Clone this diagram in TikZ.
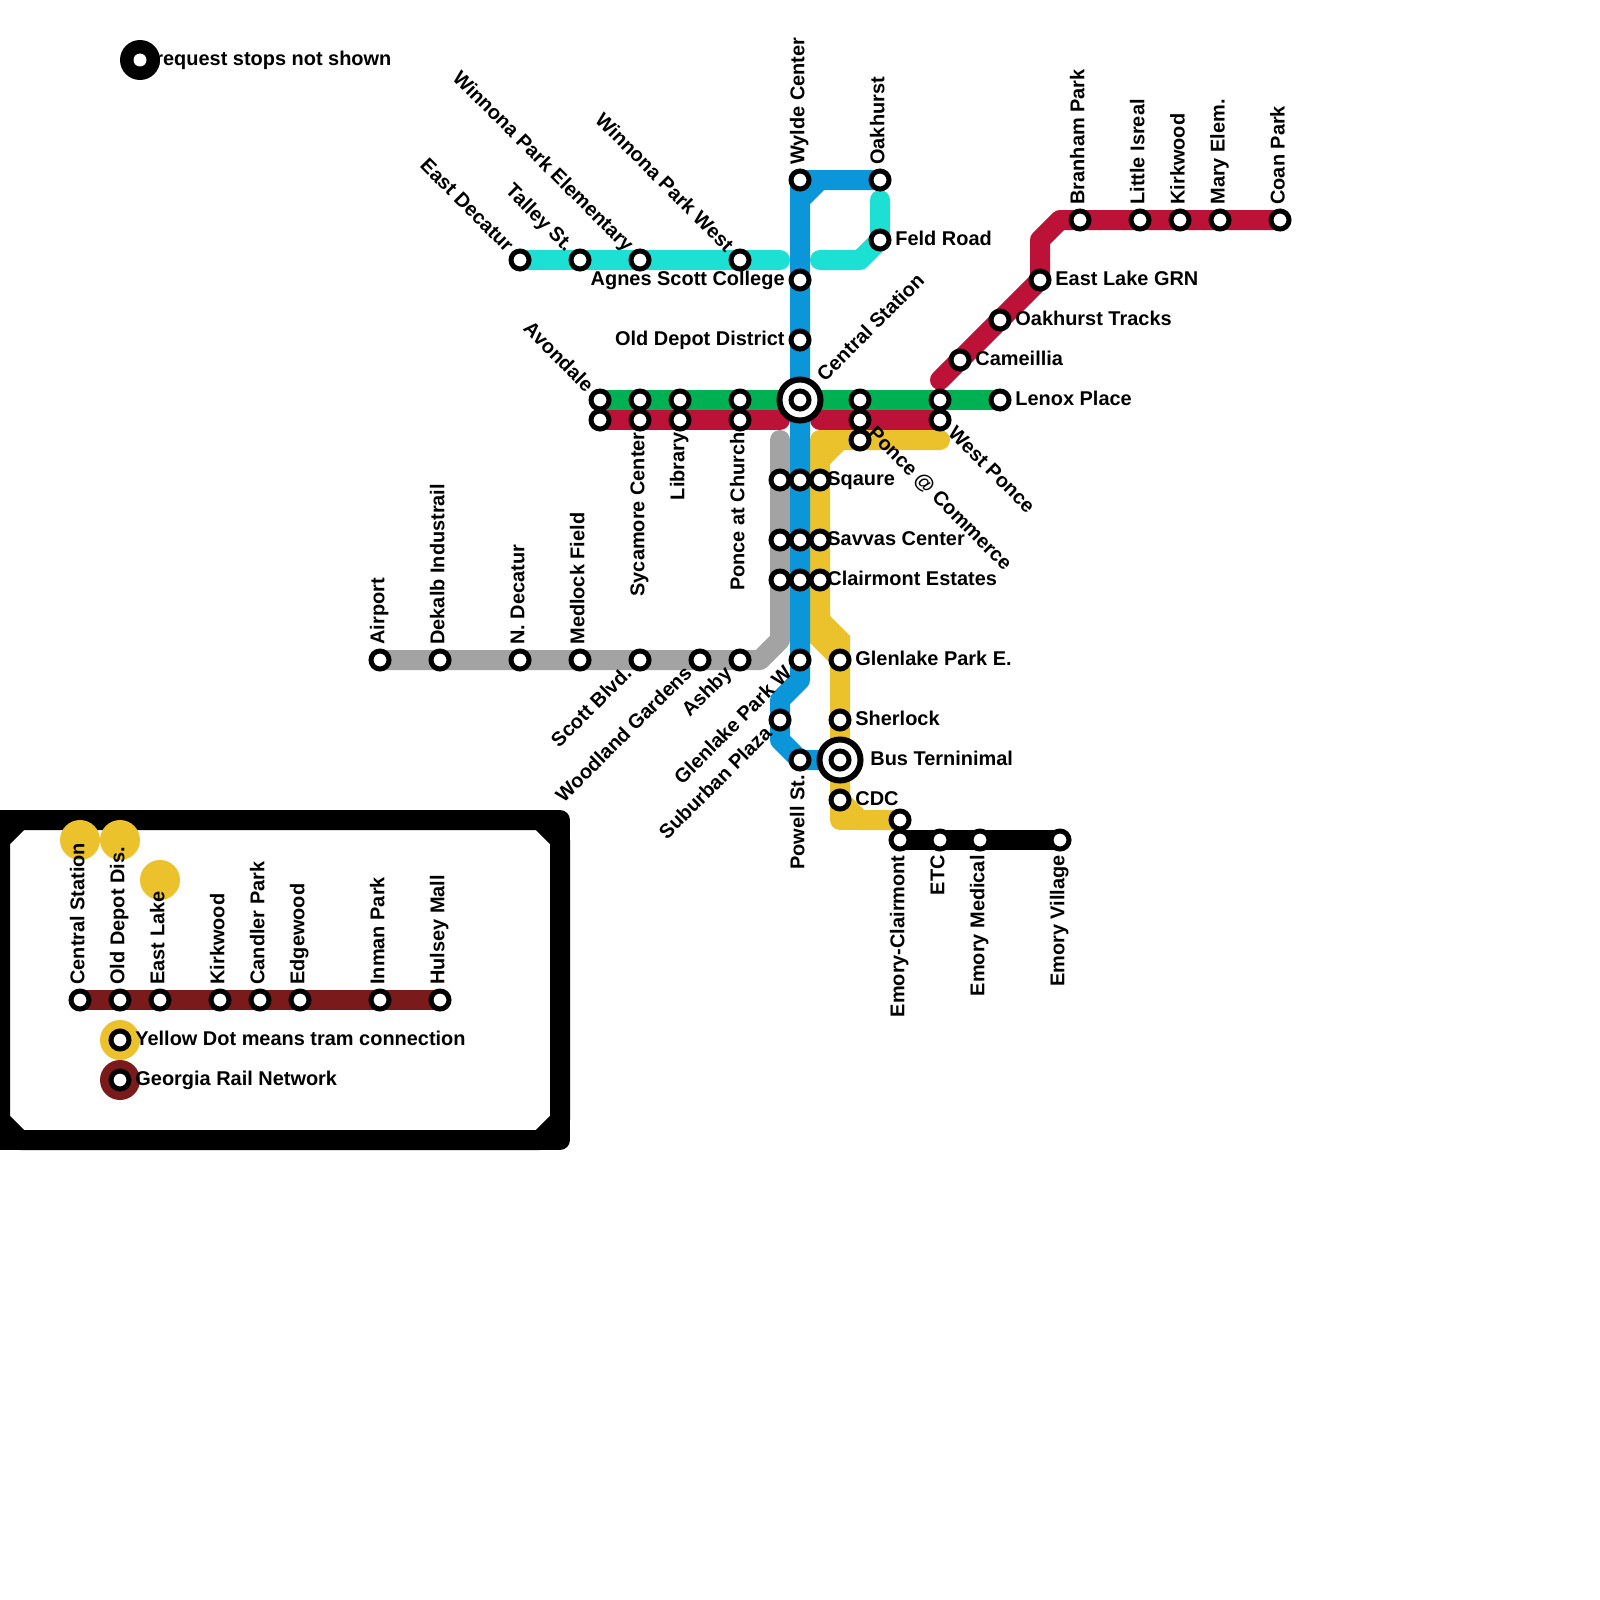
\documentclass[tikz,border=0pt]{standalone}
\usepackage{fontspec}
\setmainfont{Liberation Sans}
\definecolor{cblue}{HTML}{0B96DA}
\definecolor{cteal}{HTML}{1CE0D3}
\definecolor{cgreen}{HTML}{00B153}
\definecolor{cred}{HTML}{BC1238}
\definecolor{cyel}{HTML}{EBC12C}
\definecolor{cgray}{HTML}{A3A3A3}
\definecolor{cdark}{HTML}{7B1A1A}
\pgfdeclarelayer{paper}
\pgfdeclarelayer{rails}
\pgfsetlayers{paper,rails,main}
\tikzset{
  st/.style={circle,draw=black,fill=white,line width=2.5pt,inner sep=0pt,minimum size=9pt},
  inter/.style={circle,draw=black,fill=white,line width=3pt,inner sep=0pt,minimum size=20.5pt},
  rail/.style={line width=10pt,line cap=round,line join=round},
  lab/.style={font=\fontsize{9.97pt}{12pt}\bfseries\selectfont,inner sep=0pt,text=black},
  lr/.style={lab,anchor=mid west},
  ll/.style={lab,anchor=mid east},
  lu/.style={lab,anchor=mid west,rotate=90,xshift=0pt,yshift=0.4pt},
  ld/.style={lab,anchor=mid east,rotate=90,yshift=0.4pt},
  lne/.style={lab,anchor=mid west,rotate=45},
  lsw/.style={lab,anchor=mid east,rotate=45},
  lse/.style={lab,anchor=mid west,rotate=-45},
  lnw/.style={lab,anchor=mid east,rotate=-45},
  dot/.style={circle,inner sep=0pt,minimum size=20pt},
}
\begin{document}
\begin{tikzpicture}[x=0.5pt,y=-0.5pt]
\useasboundingbox (0,0) rectangle (1600,1600);
% legend frame
\coordinate (fa) at (0,820); \coordinate (fb) at (560,820); \coordinate (fc) at (560,1140); \coordinate (fd) at (0,1140);
\begin{pgfonlayer}{paper}
\fill[white] (0,0) rectangle (1600,1600);
\begin{scope}
\clip (0,0) rectangle (1600,1600);
\draw[line width=10pt,line join=round,fill=white] (fa) -- (fb) -- (fc) -- (fd) -- cycle;
\draw[line width=10pt,line join=round] (0,840) -- (20,820) -- (540,820) -- (560,840) -- (560,1120) -- (540,1140) -- (20,1140) -- (0,1120) -- cycle;
\end{scope}
\end{pgfonlayer}
% tram dots
\node[dot,fill=cyel] (y1) at (80,840) {};
\node[dot,fill=cyel] (y2) at (120,840) {};
\node[dot,fill=cyel] (y3) at (160,880) {};
\node[dot,fill=cyel] (y4) at (120,1040) {};
\node[dot,fill=cdark] (y5) at (120,1080) {};
\node[dot,fill=black] (key) at (140,60) {};
\node[circle,fill=white,inner sep=0pt,minimum size=6.5pt] (keyc) at (140,60) {};
% stations
\foreach \n/\x/\y in {
 wylde/800/180,oakh/880/180,feld/880/240,agnes/800/280,odd/800/340,
 edec/520/260,talley/580/260,wpe/640/260,wpw/740/260,
 ava/600/400,avb/600/420,syca/640/400,sycb/640/420,liba/680/400,libb/680/420,pca/740/400,pcb/740/420,
 pw1/860/400,pw2/860/420,pw3/860/440,wp1/940/400,wp2/940/420,lenox/1000/400,
 cam/960/360,otr/1000/320,elg/1040/280,bran/1080/220,lit/1140/220,kirk/1180/220,mary/1220/220,coan/1280/220,
 sqg/780/480,sqb/800/480,sqy/820/480,sag/780/540,sab/800/540,say/820/540,clg/780/580,clb/800/580,cly/820/580,
 air/380/660,dek/440/660,ndec/520/660,med/580/660,scott/640/660,wood/700/660,ash/740/660,
 glw/800/660,gle/840/660,sher/840/720,subp/780/720,pow/800/760,cdc/840/800,
 ecu/900/820,ecl/900/840,etc/940/840,emed/980/840,evil/1060/840,
 gcs/80/1000,god/120/1000,gel/160/1000,gki/220/1000,gcp/260/1000,ged/300/1000,gin/380/1000,ghu/440/1000,
 ky/120/1040,kg/120/1080}
 {\node[st] (\n) at (\x,\y) {};}
\node[inter] (cent) at (800,400) {};
\node[st] (centi) at (800,400) {};
\node[inter] (bus) at (840,760) {};
\node[st] (busi) at (840,760) {};
\begin{pgfonlayer}{rails}
\coordinate (tealr) at (820,260); \coordinate (teall) at (780,260);
\coordinate (tealt) at (880,200);
\draw[rail,cteal] (edec.center) -- (teall);
\draw[rail,cteal] (tealr) -- (860,260) -- (feld.center) -- (tealt);
\coordinate (grayt) at (780,440);
\draw[rail,cgray] (grayt) -- (780,640) -- (760,660) -- (air.center);
\coordinate (redl) at (780,420); \coordinate (redr) at (820,420); \coordinate (redu) at (940,380);
\draw[rail,cred] (avb.center) -- (redl);
\draw[rail,cred] (redr) -- (wp2.center);
\draw[rail,cred] (redu) -- (elg.center) -- (1040,240) -- (1060,220) -- (coan.center);
\draw[rail,cgreen] (ava.center) -- (lenox.center);
\coordinate (yele) at (940,440);
\draw[rail,cyel] (yele) -- (840,440) -- (820,460) -- (820,620);
\draw[rail,cyel] (840,440) -- (820,440) -- (820,460);
\fill[cyel] (810,610) -- (830,610) -- (830,616) -- (850,636) -- (850,670) -- (830,670) -- (830,663) -- (810,643) -- cycle;
\draw[rail,cyel] (gle.center) -- (cdc.center) -- (860,820) -- (ecu.center);
\draw[rail,cyel] (cdc.center) -- (840,820) -- (860,820);
\draw[rail,black] (ecl.center) -- (evil.center);
\draw[rail,cblue] (oakh.center) -- (820,180) -- (800,200) -- (800,680) -- (780,700) -- (780,740) -- (pow.center) -- (bus.center);
\draw[rail,cblue] (820,180) -- (wylde.center) -- (800,200);
\draw[rail,cdark] (gcs.center) -- (ghu.center);
\end{pgfonlayer}
% labels
\node[lr] (t01) at (155,60) {request stops not shown};
\node[lu] (t02) at (800,165) {Wylde Center};
\node[lu] (t03) at (880,165) {Oakhurst};
\node[lr] (t04) at (895,240) {Feld Road};
\node[ll] (t05) at (785,280) {Agnes Scott College};
\node[ll] (t06) at (785,340) {Old Depot District};
\node[lnw] (t07) at (509.4,249.4) {East Decatur};
\node[lnw] (t08) at (569.4,249.4) {Talley St.};
\node[lnw] (t09) at (629.4,249.4) {Winnona Park Elementary};
\node[lnw] (t10) at (729.4,249.4) {Winnona Park West};
\node[lnw] (t11) at (589.4,389.4) {Avondale};
\node[lne] (t12) at (821.2,378.8) {Central Station};
\node[ld] (t13) at (640,432) {Sycamore Center};
\node[ld] (t14) at (680,432) {Library};
\node[ld] (t15) at (740,432) {Ponce at Church};
\node[lr] (t16) at (1015,400) {Lenox Place};
\node[lse] (t17) at (870.6,430.6) {Ponce @ Commerce};
\node[lse] (t18) at (950.6,430.6) {West Ponce};
\node[lr] (t19) at (975,360) {Cameillia};
\node[lr] (t20) at (1015,320) {Oakhurst Tracks};
\node[lr] (t21) at (1055,280) {East Lake GRN};
\node[lu] (t22) at (1080,205) {Branham Park};
\node[lu] (t23) at (1140,205) {Little Isreal};
\node[lu] (t24) at (1180,205) {Kirkwood};
\node[lu] (t25) at (1220,205) {Mary Elem.};
\node[lu] (t26) at (1280,205) {Coan Park};
\node[lr] (t27) at (827,480) {Sqaure};
\node[lr] (t28) at (827,540) {Savvas Center};
\node[lr] (t29) at (827,580) {Clairmont Estates};
\node[lu] (t30) at (380,645) {Airport};
\node[lu] (t31) at (440,645) {Dekalb Industrail};
\node[lu] (t32) at (520,645) {N. Decatur};
\node[lu] (t33) at (580,645) {Medlock Field};
\node[lsw] (t34) at (629.4,670.6) {Scott Blvd.};
\node[lsw] (t35) at (689.4,670.6) {Woodland Gardens};
\node[lsw] (t36) at (729.4,670.6) {Ashby};
\node[lsw] (t37) at (789.4,670.6) {Glenlake Park W};
\node[lsw] (t38) at (769.4,730.6) {Suburban Plaza};
\node[ld] (t39) at (800,775) {Powell St.};
\node[lr] (t40) at (855,660) {Glenlake Park E.};
\node[lr] (t41) at (855,720) {Sherlock};
\node[lr] (t42) at (870,760) {Bus Terninimal};
\node[lr] (t43) at (855,800) {CDC};
\node[ld] (t44) at (900,855) {Emory-Clairmont};
\node[ld] (t45) at (940,855) {ETC};
\node[ld] (t46) at (980,855) {Emory Medical};
\node[ld] (t47) at (1060,855) {Emory Village};
\node[lu] (t48) at (80,985) {Central Station};
\node[lu] (t49) at (120,985) {Old Depot Dis.};
\node[lu] (t50) at (160,985) {East Lake};
\node[lu] (t51) at (220,985) {Kirkwood};
\node[lu] (t52) at (260,985) {Candler Park};
\node[lu] (t53) at (300,985) {Edgewood};
\node[lu] (t54) at (380,985) {Inman Park};
\node[lu] (t55) at (440,985) {Hulsey Mall};
\node[lr] (t56) at (135,1040) {Yellow Dot means tram connection};
\node[lr] (t57) at (135,1080) {Georgia Rail Network};
\end{tikzpicture}
\end{document}
